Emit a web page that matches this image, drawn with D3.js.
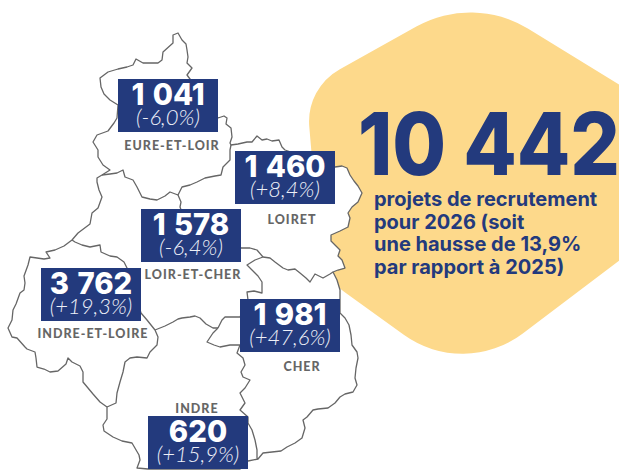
<!DOCTYPE html>
<html><head><meta charset="utf-8">
<script src="https://cdn.jsdelivr.net/npm/d3@7"></script>
<style>html,body{margin:0;padding:0;background:#fff;overflow:hidden}svg{display:block}text{font-family:Lato,sans-serif}</style>
</head><body><svg id="c" width="619" height="470"></svg>
<script>
const departments=["EURE-ET-LOIR","LOIRET","LOIR-ET-CHER","INDRE-ET-LOIRE","CHER","INDRE"];
const projects=["1 041","1 460","1 578","3 762","1 981","620"];
const changes=["(-6,0%)","(+8,4%)","(-6,4%)","(+19,3%)","(+47,6%)","(+15,9%)"];
const total="10 442";
const caption=["projets de recrutement","pour 2026 (soit","une hausse de 13,9%","par rapport à 2025)"];
const blobCorners=[[473,-5],[690,128],[690,207],[464,378],[322,276],[306,88]];
const blobRadii=[110,20,20,100,60,60];
const outerRing=[[173,35],[178,33],[182,40],[186,44],[187,50],[188,57],[187,63],[192,68],[187,75],[190,79],[218,118],[224,116],[227,118],[226,124],[231,128],[232,137],[230,143],[231,145],[238,144],[247,142],[252,142],[257,136],[262,140],[267,139],[272,141],[279,140],[282,147],[285,150],[335,167],[342,166],[347,168],[350,175],[354,181],[358,186],[362,193],[358,202],[352,207],[348,213],[350,218],[348,227],[340,231],[331,235],[331,241],[336,246],[340,250],[338,256],[342,260],[345,268],[338,270],[333,272],[337,280],[340,290],[340,313],[345,318],[349,325],[351,335],[352,345],[357,352],[358,358],[356,368],[355,378],[357,385],[353,392],[345,394],[340,397],[335,403],[328,408],[318,409],[313,410],[307,417],[303,420],[305,428],[302,438],[295,443],[287,447],[281,451],[272,452],[263,453],[258,459],[248,461],[240,469],[148,469],[137,468],[140,460],[139,455],[132,443],[122,441],[113,437],[104,431],[103,425],[107,419],[107,407],[100,402],[93,394],[88,388],[83,382],[83,372],[80,366],[72,362],[68,358],[66,364],[58,371],[50,372],[44,369],[37,367],[36,358],[35,352],[27,349],[25,347],[17,338],[12,337],[8,328],[12,320],[13,310],[16,304],[20,293],[24,290],[25,283],[24,276],[28,265],[30,257],[37,258],[44,259],[50,258],[46,252],[55,250],[64,246],[72,240],[78,233],[90,224],[92,213],[98,208],[102,197],[99,190],[97,182],[97,178],[102,175],[110,170],[103,165],[98,157],[98,150],[93,142],[97,135],[108,131],[114,123],[117,118],[118,105],[110,100],[104,94],[101,87],[100,78],[108,72],[118,69],[127,67],[133,65],[136,59],[143,63],[150,63],[158,63],[162,60],[163,52],[173,43]];
const borderEurLoirSouth=[[102,175],[110,174],[117,173],[123,170],[125,177],[133,180],[137,187],[142,197],[150,199],[157,200],[165,196],[170,192],[178,195],[182,187],[190,185],[197,182],[205,178],[215,176],[221,175],[223,167],[230,160],[230,150],[231,145]];
const borderLoiretLoirCher=[[178,195],[181,202],[180,207],[183,215],[241,248],[250,248],[257,250],[263,257]];
const borderLoiretCher=[[263,257],[270,258],[275,262],[283,268],[288,270],[295,269],[300,273],[306,278],[310,282],[315,274],[323,278],[330,274],[333,272]];
const borderLoirCherCher=[[263,257],[255,260],[247,265],[252,270],[258,276],[262,282],[262,293],[254,291],[247,292],[248,300],[240,317],[225,317],[222,320],[218,328]];
const borderLoirCherIndre=[[155,330],[165,326],[173,322],[178,319],[182,318],[190,317],[195,316],[200,318],[206,324],[213,328],[218,328]];
const borderLoirCherTouraine=[[72,240],[75,242],[82,245],[90,247],[100,245],[101,252],[110,256],[117,257],[124,262],[127,268],[141,313],[147,320],[155,330]];
const borderTouraineIndre=[[155,330],[158,337],[157,345],[150,352],[147,358],[137,357],[130,358],[125,362],[123,372],[120,382],[117,393],[116,403],[107,407]];
const borderIndreCher=[[218,328],[213,333],[207,342],[214,345],[220,347],[230,345],[240,345],[237,353],[243,358],[245,365],[241,372],[243,377],[250,380],[245,388],[240,393],[245,403],[240,410],[248,417],[248,423],[252,430],[255,440],[257,450],[257,458],[258,459]];
const innerBorders=[borderEurLoirSouth,borderLoiretLoirCher,borderLoiretCher,borderLoirCherCher,borderLoirCherIndre,borderLoirCherTouraine,borderTouraineIndre,borderIndreCher];
const boxLefts=[118,235,141,41,240,148];
const boxTops=[79,151,209,268,299,416];
const labelX=[172,292,193,93,302,197];
const labelY=[150,224,279,338,371,413];

const svg=d3.select("#c");
const line=d3.line().curve(d3.curveLinear);
const blob=d3.path();
const n=blobCorners.length;
const mid=(a,b)=>[(a[0]+b[0])/2,(a[1]+b[1])/2];
const start=mid(blobCorners[n-1],blobCorners[0]);
blob.moveTo(start[0],start[1]);
blobCorners.forEach((c,i)=>{const nx=blobCorners[(i+1)%n];const m=mid(c,nx);blob.arcTo(c[0],c[1],m[0],m[1],blobRadii[i]);});
blob.closePath();
svg.append("path").attr("d",blob.toString()).attr("fill","#FDD98B");
svg.append("path").attr("d",line(outerRing)+"Z").attr("fill","#fff").attr("stroke","#666").attr("stroke-width",1.3).attr("stroke-linejoin","round");
svg.selectAll("path.inner").data(innerBorders).join("path").attr("class","inner").attr("d",line)
  .attr("fill","none").attr("stroke","#666").attr("stroke-width",1.3).attr("stroke-linejoin","round");
const g=svg.selectAll("g.b").data(departments).join("g").attr("class","b");
g.append("rect").attr("x",(d,i)=>boxLefts[i]).attr("y",(d,i)=>boxTops[i]).attr("width",100).attr("height",53).attr("fill","#233A7D");
g.append("text").attr("transform",(d,i)=>`translate(${boxLefts[i]+50},${boxTops[i]+26}) scale(0.96,1)`).attr("text-anchor","middle")
  .attr("fill","#fff").attr("font-size",30.5).attr("font-weight",800).style("font-family","Inter,sans-serif").attr("word-spacing",2).text((d,i)=>projects[i]);
g.append("text").attr("x",(d,i)=>boxLefts[i]+50).attr("y",(d,i)=>boxTops[i]+46).attr("text-anchor","middle")
  .attr("fill","#eef0f8").attr("font-size",22).attr("font-weight",300).attr("font-style","italic").text((d,i)=>changes[i]);
g.append("text").attr("x",(d,i)=>labelX[i]).attr("y",(d,i)=>labelY[i]).attr("text-anchor","middle")
  .attr("fill","#666").attr("font-size",12.5).attr("font-weight",900).attr("letter-spacing",1).text(d=>d);
svg.append("text").attr("transform","translate(358,175) scale(0.905,1)").attr("fill","#233A7D").attr("font-size",86).attr("font-weight",800).style("font-family","Inter,sans-serif").text(total);
svg.selectAll("text.cap").data(caption).join("text").attr("class","cap").attr("x",374).attr("y",(d,i)=>206+i*22.7)
  .attr("fill","#233A7D").attr("font-size",20).attr("font-weight",700).style("font-family","Inter,sans-serif").text(d=>d);
</script></body></html>
